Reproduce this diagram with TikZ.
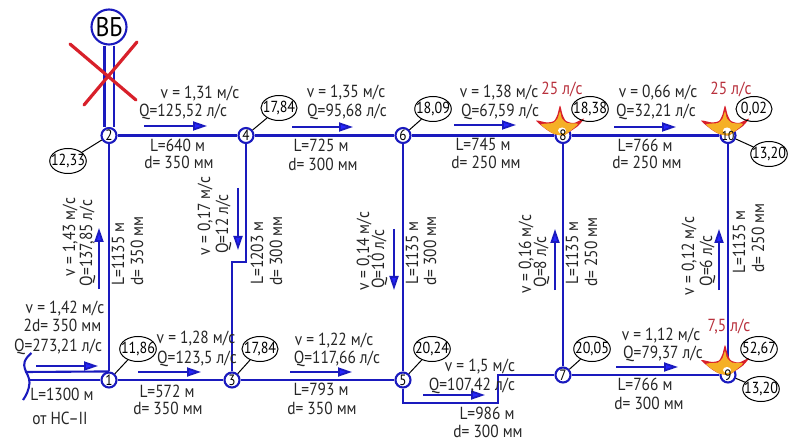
\documentclass[tikz,border=0pt]{standalone}
\usepackage{fontspec}
\setmainfont[FakeStretch=0.88]{PT Sans}
\usetikzlibrary{shapes.geometric,arrows.meta}
\definecolor{pipeblue}{HTML}{1A1ABE}
\definecolor{crossred}{HTML}{D8202A}
\definecolor{loadred}{HTML}{B8303C}
\definecolor{fireyellow}{HTML}{F5B026}
\tikzset{
  lab/.style={font=\fontsize{17.5}{18}\selectfont, inner sep=0pt, text height=12pt, text depth=0pt, text=black!85},
  vlab/.style={lab, rotate=90},
  loadlab/.style={lab, text=loadred},
  pipe/.style={draw=pipeblue, line width=2.1pt},
  flow/.style={draw=pipeblue, line width=1.8pt, -{Triangle[length=14pt,width=9pt,fill=blue!85!white]}},
  lead/.style={draw=black, line width=1pt},
  junc/.style={circle, draw=pipeblue, line width=2.1pt, fill=white, minimum size=15pt, inner sep=0pt, font=\fontsize{15}{15}\selectfont},
  digit/.style={inner sep=0pt, font=\fontsize{15}{15}\selectfont},
  press/.style={ellipse, draw=black, line width=1pt, minimum width=36pt, minimum height=25pt, inner sep=-4pt, font=\fontsize{16}{16}\selectfont},
  fire/.pic={
    \fill[crossred] plot[smooth cycle, tension=.4] coordinates {(-27,-15) (-16,-13) (-9,-14.5) (-5.5,-21) (-3,-30) (-0.5,-21) (3,-14.5) (11,-12.5) (21,-17) (15,-9.5) (4,-2) (0,0) (-10,-2) (-18,-7)};
    \fill[fireyellow] plot[smooth cycle, tension=.4] coordinates {(-22,-11) (-10,-12.5) (-5.5,-17) (-3,-24) (-1,-17) (4,-12.5) (15,-11.5) (4,-2) (0,0) (-10,-2)};
    \fill[white] (-1,-5) ellipse (4pt and 3pt);
  }
}
\begin{document}
\begin{tikzpicture}[x=1pt, y=-1pt]
  \useasboundingbox (0,0) rectangle (794,443);

  % Junctions of the network
  \node[junc] (n1) at (109,380) {1};
  \node[junc] (n2) at (109,135.5) {2};
  \node[junc] (n3) at (232,380) {3};
  \node[junc] (n4) at (246,135.5) {4};
  \node[junc] (n5) at (403,380) {5};
  \node[junc] (n6) at (403,135.5) {6};
  \node[junc] (n7) at (563,375) {7};
  \node[junc] (n8) at (563,135.5) {};
  \node[junc] (n9) at (728,375) {};
  \node[junc] (n10) at (728,135.5) {};
  \node[circle, draw=pipeblue, line width=2.1pt, minimum size=35pt, inner sep=0pt, font=\fontsize{27}{27}\selectfont] (vb) at (109,27) {ВБ};

  % Bends of the pipes
  \coordinate (k1) at (246,262);
  \coordinate (k2) at (232,262);
  \coordinate (k3) at (403,403);
  \coordinate (k4) at (498,403);
  \coordinate (k5) at (498,375);

  % Pipes
  \draw[pipe] (n2) -- (n4);
  \draw[pipe] (n4) -- (n6);
  \draw[pipe] (n6) -- (n8);
  \draw[pipe] (n8) -- (n10);
  \draw[pipe] (n1) -- (n3);
  \draw[pipe] (n3) -- (n5);
  \draw[pipe] (n7) -- (n9);
  \draw[pipe] (n1) -- (n2);
  \draw[pipe] (n6) -- (n5);
  \draw[pipe] (n8) -- (n7);
  \draw[pipe] (n10) -- (n9);
  \draw[pipe] (n4) -- (k1) -- (k2) -- (n3);
  \draw[pipe] (n5) -- (k3) -- (k4) -- (k5) -- (n7);
  \draw[pipe, double, double distance=7pt] (vb) -- (n2);

  % Inlet with its break line
  \coordinate (i1) at (25,372);
  \coordinate (i2) at (28,380);
  \coordinate (b1) at (31.5,353);
  \coordinate (b2) at (23,400);
  \draw[pipe] (i1) -- (n1.north);
  \draw[pipe] (i2) -- (n1);
  \draw[pipe] (b1) .. controls (16,366) and (30,372) .. (29.5,383) .. controls (29,390) and (26,396) .. (b2);

  % Tower cut off
  \coordinate (x1) at (70,44);
  \coordinate (x2) at (136,100);
  \coordinate (x3) at (137,42);
  \coordinate (x4) at (84,105);
  \draw[crossred, line width=3.2pt, line cap=round] (x1) -- (x2);
  \draw[crossred, line width=3.2pt, line cap=round] (x3) -- (x4);

  % Fire loads
  \pic at (n8) {fire};
  \pic at (n10) {fire};
  \pic at (n9) {fire};
  \node[digit] (t8) at (n8) {8};
  \node[digit] (t9) at (n9) {9};
  \node[digit, font=\fontsize{13}{13}\selectfont] (t10) at (n10) {10};
  \node[loadlab] (f8) at (562,89) {25 л/с};
  \node[loadlab] (f10) at (731,89) {25 л/с};
  \node[loadlab] (f9) at (729,325) {7,5 л/с};

  % Free heads
  \node[press] (h2) at (68,161) {12,33};
  \node[press] (h1) at (138,349) {11,86};
  \node[press] (h3) at (260,349) {17,84};
  \node[press] (h4) at (279,108) {17,84};
  \node[press] (h6) at (433,109) {18,09};
  \node[press] (h8) at (590,109) {18,38};
  \node[press] (h10) at (754,109) {0,02};
  \node[press] (g10) at (769,154) {13,20};
  \node[press] (h5) at (432,349) {20,24};
  \node[press] (h7) at (592,349) {20,05};
  \node[press] (h9) at (759,349) {52,67};
  \node[press] (g9) at (761,389) {13,20};
  \draw[lead] (n2) -- (h2);
  \draw[lead] (n1) -- (h1);
  \draw[lead] (n3) -- (h3);
  \draw[lead] (n4) -- (h4);
  \draw[lead] (n6) -- (h6);
  \draw[lead] (n5) -- (h5);
  \draw[lead] (n7) -- (h7);
  \draw[lead] (n10) -- (g10);
  \draw[lead] (n9) -- (g9);

  % Flow arrows
  \coordinate (a0) at (36,366);   \coordinate (c0) at (98,366);
  \coordinate (a1) at (144,126);  \coordinate (c1) at (207,126);
  \coordinate (a2) at (292,127);  \coordinate (c2) at (353,127);
  \coordinate (a3) at (454,125);  \coordinate (c3) at (516,125);
  \coordinate (a4) at (614,127);  \coordinate (c4) at (676,127);
  \coordinate (a5) at (138,372);  \coordinate (c5) at (201,372);
  \coordinate (a6) at (290,372);  \coordinate (c6) at (352,372);
  \coordinate (a7) at (423,395);  \coordinate (c7) at (485,395);
  \coordinate (a8) at (616,367);  \coordinate (c8) at (678,367);
  \coordinate (a9) at (99,289);   \coordinate (c9) at (99,228);
  \coordinate (a10) at (238,188); \coordinate (c10) at (238,250);
  \coordinate (a11) at (394,229); \coordinate (c11) at (394,290);
  \coordinate (a12) at (555,290); \coordinate (c12) at (555,229);
  \coordinate (a13) at (719,290); \coordinate (c13) at (719,229);
  \draw[flow] (a0) -- (c0);
  \draw[flow] (a1) -- (c1);
  \draw[flow] (a2) -- (c2);
  \draw[flow] (a3) -- (c3);
  \draw[flow] (a4) -- (c4);
  \draw[flow] (a5) -- (c5);
  \draw[flow] (a6) -- (c6);
  \draw[flow] (a7) -- (c7);
  \draw[flow] (a8) -- (c8);
  \draw[flow] (a9) -- (c9);
  \draw[flow] (a10) -- (c10);
  \draw[flow] (a11) -- (c11);
  \draw[flow] (a12) -- (c12);
  \draw[flow] (a13) -- (c13);

  % Inlet data
  \node[lab] (v0) at (65,307) {v = 1,42 м/с};
  \node[lab] (d0) at (62.5,325) {2d= 350 мм};
  \node[lab] (q0) at (58,345) {Q=273,21 л/с};
  \node[lab] (l0) at (62,394) {L=1300 м};
  \node[lab] (s0) at (60,418) {от НС--II};

  % Top row
  \node[lab] (v24) at (200,93) {v = 1,31 м/с};
  \node[lab] (q24) at (183,111) {Q=125,52 л/с};
  \node[lab] (l24) at (177.5,146) {L=640 м};
  \node[lab] (d24) at (179,163) {d= 350 мм};
  \node[lab] (v46) at (346,92) {v = 1,35 м/с};
  \node[lab] (q46) at (347,111) {Q=95,68 л/с};
  \node[lab] (l46) at (321,146) {L=725 м};
  \node[lab] (d46) at (323,165) {d= 300 мм};
  \node[lab] (v68) at (499,92) {v = 1,38 м/с};
  \node[lab] (q68) at (500,111) {Q=67,59 л/с};
  \node[lab] (l68) at (483,145) {L=745 м};
  \node[lab] (d68) at (486,163) {d= 250 мм};
  \node[lab] (v810) at (658,92) {v = 0,66 м/с};
  \node[lab] (q810) at (656,111) {Q=32,21 л/с};
  \node[lab] (l810) at (645,146) {L=766 м};
  \node[lab] (d810) at (647,163) {d= 250 мм};

  % Bottom row
  \node[lab] (v13) at (196,337) {v = 1,28 м/с};
  \node[lab] (q13) at (197,357) {Q=123,5 л/с};
  \node[lab] (l13) at (167,391) {L=572 м};
  \node[lab] (d13) at (168,408) {d= 350 мм};
  \node[lab] (v35) at (334,339) {v = 1,22 м/с};
  \node[lab] (q35) at (337,357) {Q=117,66 л/с};
  \node[lab] (l35) at (321,389) {L=793 м};
  \node[lab] (d35) at (322,408) {d= 350 мм};
  \node[lab] (v57) at (480,365) {v = 1,5 м/с};
  \node[lab] (q57) at (472,384) {Q=107,42 л/с};
  \node[lab] (l57) at (487,413) {L=986 м};
  \node[lab] (d57) at (488,431) {d= 300 мм};
  \node[lab] (v79) at (661,334) {v = 1,12 м/с};
  \node[lab] (q79) at (663,352) {Q=79,37 л/с};
  \node[lab] (l79) at (645,384) {L=766 м};
  \node[lab] (d79) at (649,403) {d= 300 мм};

  % Risers
  \node[vlab] (v12) at (69,237) {v = 1,43 м/с};
  \node[vlab] (q12) at (86,243) {Q=137,85 л/с};
  \node[vlab] (l12) at (118,254) {L=1135 м};
  \node[vlab] (d12) at (137,251) {d= 350 мм};
  \node[vlab] (v43) at (204,216) {v = 0,17 м/с};
  \node[vlab] (q43) at (222,224) {Q=12 л/с};
  \node[vlab] (l43) at (257,253) {L=1203 м};
  \node[vlab] (d43) at (276,251) {d= 300 мм};
  \node[vlab] (v65) at (363,251) {v = 0,14 м/с};
  \node[vlab] (q65) at (378,259) {Q=10 л/с};
  \node[vlab] (l65) at (412,253) {L=1135 м};
  \node[vlab] (d65) at (430,251) {d= 300 мм};
  \node[vlab] (v87) at (525,254) {v = 0,16 м/с};
  \node[vlab] (q87) at (540,262) {Q=8 л/с};
  \node[vlab] (l87) at (572,253) {L=1135 м};
  \node[vlab] (d87) at (591,252) {d= 250 мм};
  \node[vlab] (v109) at (688,256) {v = 0,12 м/с};
  \node[vlab] (q109) at (706,261) {Q=6 л/с};
  \node[vlab] (l109) at (739,242) {L=1135 м};
  \node[vlab] (d109) at (758,238) {d= 250 мм};
\end{tikzpicture}
\end{document}
